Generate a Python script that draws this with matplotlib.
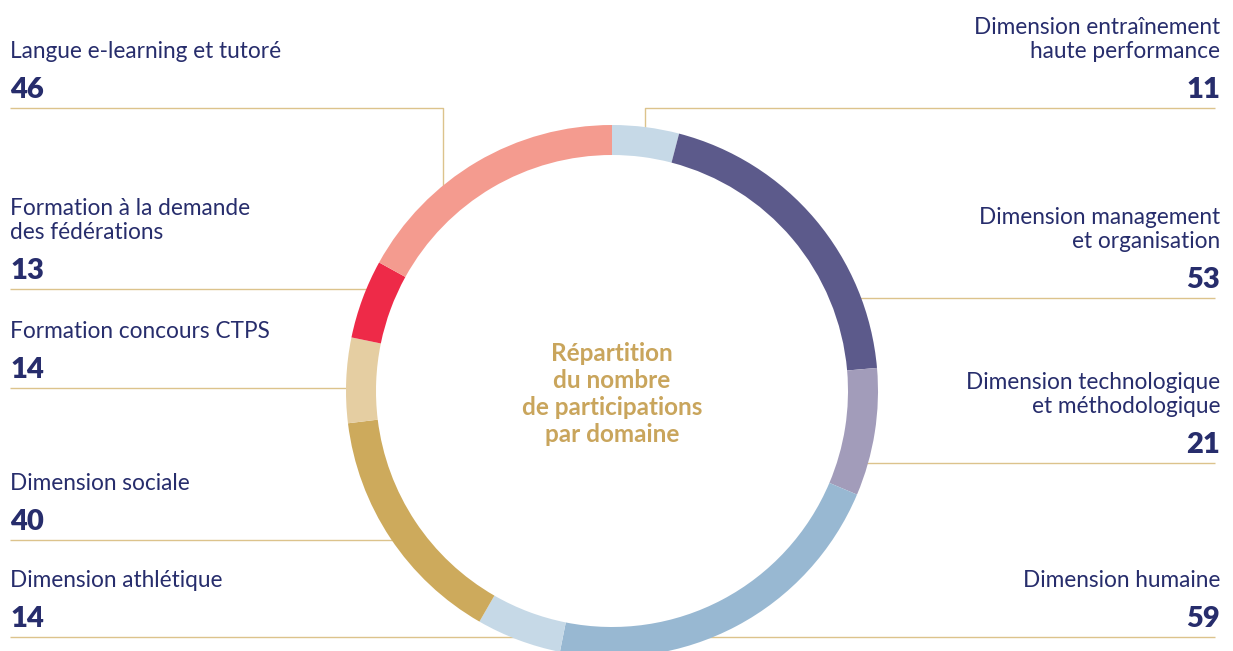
import numpy as np
import matplotlib
matplotlib.use("Agg")
import matplotlib.pyplot as plt

# ---- data ----
categories = [
    "Dimension entraînement\nhaute performance",
    "Dimension management\net organisation",
    "Dimension technologique\net méthodologique",
    "Dimension humaine",
    "Dimension athlétique",
    "Dimension sociale",
    "Formation concours CTPS",
    "Formation à la demande\ndes fédérations",
    "Langue e-learning et tutoré",
]
values = [11, 53, 21, 59, 14, 40, 14, 13, 46]
colors = ["#c6d9e7", "#5c5a8b", "#a29cba", "#98b8d2", "#c6d9e7",
          "#cdaa5c", "#e5cea2", "#ee2a48", "#f49b8f"]
center_title = "Répartition\ndu nombre\nde participations\npar domaine"

W, H = 1233, 651
NAVY = "#272d6c"
GOLD = "#c9a55c"
LINE = "#dcc38c"
FONT = "Lato"

fig = plt.figure(figsize=(W / 100, H / 100), dpi=100)
ax = fig.add_axes([0, 0, 1, 1])

def Y(p):
    return H - p

cx, cy, R, ring = 612, Y(391), 266, 30

ax.pie(values, colors=colors, startangle=90, counterclock=False,
       center=(cx, cy), radius=R,
       wedgeprops=dict(width=ring, linewidth=0, zorder=3))
ax.set_xlim(0, W)
ax.set_ylim(0, H)
ax.set_aspect("equal")
ax.axis("off")

def xring(ypix, side):
    dy = Y(ypix) - cy
    return cx + side * np.sqrt(max(R ** 2 - dy ** 2, 0)) - side * 10

# label layout: (category index, side, label baseline of last line, number baseline, line y)
layout = [
    (8, -1, 58, 98, 108),
    (7, -1, 239, 279, 289),
    (6, -1, 338, 378, 388),
    (5, -1, 490, 530, 540),
    (4, -1, 587, 627, 637),
    (0, 1, 58, 98, 108),
    (1, 1, 248, 288, 298),
    (2, 1, 413, 453, 463),
    (3, 1, 587, 627, 637),
]

for idx, side, lab_y, num_y, line_y in layout:
    lines = categories[idx].split("\n")
    x = 10 if side < 0 else 1220
    ha = "left" if side < 0 else "right"
    for k, ln in enumerate(reversed(lines)):
        ax.text(x, Y(lab_y - 24 * k), ln, ha=ha, va="baseline",
                fontsize=16.3, color=NAVY, family=FONT, zorder=5)
    ax.text(x, Y(num_y), str(values[idx]), ha=ha, va="baseline",
            fontsize=21, color=NAVY, family=FONT, fontweight="heavy", zorder=5)

    x0 = 10 if side < 0 else 1215
    if idx == 8:
        ax.plot([x0, 443, 443], [Y(line_y), Y(line_y), Y(200)],
                color=LINE, lw=1.0, zorder=1, solid_capstyle="butt")
    elif idx == 0:
        ax.plot([x0, 645, 645], [Y(line_y), Y(line_y), Y(140)],
                color=LINE, lw=1.0, zorder=1, solid_capstyle="butt")
    else:
        ax.plot([x0, xring(line_y, side)], [Y(line_y), Y(line_y)],
                color=LINE, lw=1.0, zorder=1, solid_capstyle="butt")

ax.text(cx, Y(394), center_title, ha="center", va="center", fontsize=17.5,
        color=GOLD, family=FONT, fontweight="bold", linespacing=1.2, zorder=5)

fig.savefig("out.png", dpi=100, facecolor="white")
